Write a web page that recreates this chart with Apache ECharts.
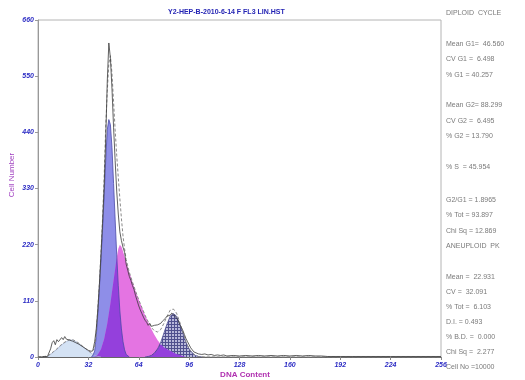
<!DOCTYPE html>
<html>
<head>
<meta charset="utf-8">
<script src="https://cdn.jsdelivr.net/npm/echarts@6/dist/echarts.min.js"></script>
<style>
html,body{margin:0;padding:0;background:#fff;}
#main{width:525px;height:380px;}
</style>
</head>
<body>
<div id="main"></div>
<script>
//坐标轴刻度
var xTicks = [0, 32, 64, 96, 128, 160, 192, 224, 256];
var yTicks = [0, 110, 220, 330, 440, 550, 660];

//各成分数据 [通道, 细胞数]
var aneuploidPk = [[6,0],[8,5],[10,10],[12,15],[14,21],[16,26],[18,30],[20,33],[22,33],[24,30],[26,26],[28,21],[30,16],[32,11],[34,7],[36,3],[38,1],[40,0]];
var g1Peak = [[34,0],[35,4],[36,12],[37,40],[38,85],[39,135],[40,190],[41,250],[42,315],[43,385],[44,445],[45,465],[46,455],[47,410],[48,340],[49,270],[50,200],[51,140],[52,90],[53,55],[54,30],[55,14],[56,5],[58,0]];
var sPhase = [[36,0],[38,5],[40,15],[42,35],[44,65],[46,105],[48,150],[49,172],[50,195],[51,212],[52,220],[53,216],[54,207],[56,186],[58,166],[60,147],[62,129],[64,112],[66,97],[68,82],[70,68],[72,55],[74,43],[76,33],[78,25],[80,19],[82,15],[84,12],[86,9],[88,6],[90,4],[92,2],[94,0]];
var g2Peak = [[68,0],[70,1],[72,3],[74,8],[76,16],[78,29],[80,47],[82,65],[84,80],[86,85],[88,80],[90,65],[92,47],[94,29],[96,16],[98,8],[100,3],[102,1],[104,0]];
var overlapG1S = [[36,0],[38,5],[40,15],[42,35],[44,65],[46,105],[48,150],[49,172],[50,195],[51,140],[52,90],[53,55],[54,30],[55,14],[56,5],[58,0]];
var overlapSG2 = [[68,0],[70,1],[72,3],[74,8],[76,16],[78,25],[80,19],[82,15],[84,12],[86,9],[88,6],[90,4],[92,2],[94,0]];
var fitLine = [[0,0],[4,1],[6,2],[8,6],[10,11],[12,16],[14,22],[16,27],[18,31],[20,34],[22,34],[24,31],[26,27],[28,22],[30,17],[32,12],[34,8],[35,10],[36,18],[37,48],[38,95],[39,145],[40,205],[41,270],[42,350],[43,450],[44,520],[45,575],[46,590],[47,555],[48,500],[49,445],[50,395],[51,352],[52,310],[53,271],[54,237],[55,212],[56,191],[58,166],[60,147],[62,129],[64,112],[66,97],[68,82],[70,69],[72,58],[74,51],[76,49],[78,54],[80,66],[82,80],[84,92],[86,94],[88,86],[90,69],[92,49],[94,29],[96,16],[98,8],[100,3],[102,1],[106,0],[256,0]];
var dataHist = [[0,0],[2,0],[4,1],[6,1],[7,4],[8,16],[9,28],[10,32],[11,24],[12,34],[13,30],[14,33],[15,38],[16,34],[17,40],[18,35],[19,38],[20,33],[21,36],[22,31],[23,33],[24,28],[25,30],[26,25],[27,27],[28,21],[29,23],[30,17],[31,18],[32,13],[33,14],[34,11],[35,15],[36,30],[37,55],[38,92],[39,142],[40,200],[41,262],[42,332],[43,425],[44,540],[45,615],[46,585],[47,525],[48,450],[49,385],[50,325],[51,280],[52,245],[53,228],[54,215],[55,205],[56,182],[57,170],[58,158],[59,150],[60,140],[61,132],[62,120],[63,110],[64,100],[65,92],[66,85],[67,78],[68,72],[69,68],[70,62],[71,66],[72,60],[73,58],[74,62],[75,60],[76,63],[77,61],[78,66],[79,70],[80,73],[81,76],[82,80],[83,83],[84,82],[85,86],[86,84],[87,80],[88,78],[89,72],[90,64],[91,58],[92,52],[93,44],[94,36],[95,30],[96,24],[97,18],[98,14],[99,10],[100,8],[102,6],[104,5],[106,6],[108,4],[110,5],[112,3],[114,4],[116,3],[118,4],[120,2],[124,3],[128,2],[132,3],[136,2],[140,3],[144,2],[148,3],[152,2],[156,3],[160,2],[164,3],[168,2],[172,3],[176,2],[180,2],[184,1],[192,1],[200,1],[224,1],[256,1]];

//右侧统计文字
var statLines = [
	['DIPLOID  CYCLE', 13],
	['Mean G1=  46.560', 44], ['CV G1 =  6.498', 59], ['% G1 = 40.257', 75],
	['Mean G2= 88.299', 105], ['CV G2 =  6.495', 121], ['% G2 = 13.790', 136],
	['% S  = 45.954', 167],
	['G2/G1 = 1.8965', 200], ['% Tot = 93.897', 215], ['Chi Sq = 12.869', 231], ['ANEUPLOID  PK', 246],
	['Mean =  22.931', 277], ['CV =  32.091', 292], ['% Tot =  6.103', 307], ['D.I. = 0.493', 322],
	['% B.D. =  0.000', 337], ['Chi Sq =  2.277', 352], ['Cell No =10000', 367]
];

var chart = echarts.init(document.getElementById('main'));

//G2网格填充
var hatch = document.createElement('canvas');
hatch.width = 3;
hatch.height = 3;
var hctx = hatch.getContext('2d');
hctx.fillStyle = '#b8b8da';
hctx.fillRect(0, 0, 3, 3);
hctx.fillStyle = '#50508e';
hctx.fillRect(0, 0, 3, 1);
hctx.fillRect(0, 0, 1, 3);

function areaSeries(name, data, color, lineColor) {
	return {
		name: name,
		type: 'line',
		data: data,
		symbol: 'none',
		lineStyle: { width: lineColor ? 0.8 : 0, color: lineColor || color },
		areaStyle: { color: color, opacity: 1 },
		silent: true
	};
}

var labelStyle = {
	color: '#2c2cc4',
	fontSize: 7,
	fontStyle: 'italic',
	fontWeight: 'bold',
	fontFamily: 'Liberation Sans'
};

var graphics = [
	{
		type: 'text', left: 168, top: 9,
		style: { text: 'Y2-HEP-B-2010-6-14 F FL3 LIN.HST', fill: '#2424b4', font: 'bold 7px "Liberation Sans"' }
	},
	{
		type: 'text', x: 12, y: 175, rotation: Math.PI / 2,
		style: { text: 'Cell Number', fill: '#a040c0', font: '8px "Liberation Sans"', align: 'center', verticalAlign: 'middle' }
	},
	{
		type: 'text', x: 245, y: 375,
		style: { text: 'DNA Content', fill: '#b030b0', font: 'bold 8px "Liberation Sans"', align: 'center', verticalAlign: 'middle' }
	}
];
for (var i = 0; i < statLines.length; i++) {
	graphics.push({
		type: 'text', x: 446, y: statLines[i][1],
		style: { text: statLines[i][0], fill: '#7a7a7a', font: '7px "Liberation Sans"', verticalAlign: 'middle' }
	});
}

var option = {
	animation: false,
	grid: { left: 38, right: 84, top: 20, bottom: 23, show: true, borderColor: '#b4b4b4', borderWidth: 1 },
	xAxis: {
		type: 'value', min: xTicks[0], max: xTicks[xTicks.length - 1], interval: 32,
		axisLine: { lineStyle: { color: '#666', width: 1 } },
		axisTick: { show: true, length: 3, lineStyle: { color: '#888' } },
		axisLabel: Object.assign({ margin: 5 }, labelStyle),
		splitLine: { show: false }
	},
	yAxis: {
		type: 'value', min: yTicks[0], max: yTicks[yTicks.length - 1], interval: 110,
		axisLine: { show: true, lineStyle: { color: '#999', width: 1 } },
		axisTick: { show: true, length: 3, lineStyle: { color: '#999' } },
		axisLabel: Object.assign({ margin: 4 }, labelStyle),
		splitLine: { show: false }
	},
	graphic: graphics,
	series: [
		areaSeries('Aneuploid', aneuploidPk, '#d4e2f4', '#a8b8d8'),
		areaSeries('G1', g1Peak, '#8e8ee8', '#4a4aa8'),
		areaSeries('S', sPhase, '#e474e2'),
		areaSeries('G2', g2Peak, { image: hatch, repeat: 'repeat' }, '#4a4a90'),
		areaSeries('G1/S', overlapG1S, '#9440dc'),
		areaSeries('S/G2', overlapSG2, '#9440dc'),
		{
			name: 'Fit', type: 'line', data: fitLine, symbol: 'none', silent: true,
			lineStyle: { color: '#8a8a8a', width: 1, type: [3, 2] }
		},
		{
			name: 'Data', type: 'line', data: dataHist, symbol: 'none', silent: true,
			lineStyle: { color: '#3a3a3a', width: 0.8 }
		}
	]
};
chart.setOption(option);
</script>
</body>
</html>
